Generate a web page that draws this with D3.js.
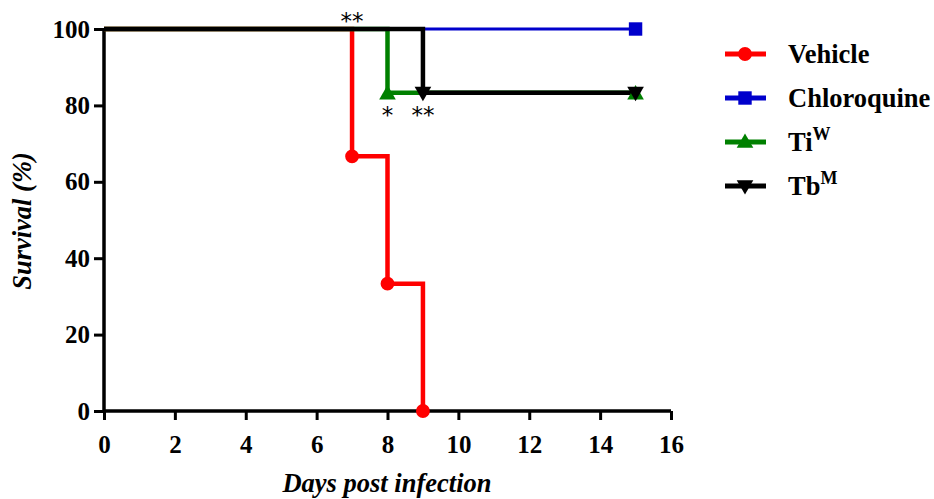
<!DOCTYPE html>
<html>
<meta charset="utf-8"/>
<head>
<script src="https://d3js.org/d3.v7.min.js"></script>
<style>
  body { margin: 0; background: #fff; }
  text { font-family: "Liberation Serif", "Times New Roman", serif; font-weight: bold; }
</style>
</head>
<body>
<script>
// survival data (day, %), Kaplan-Meier steps
var vehicle = [[0,100],[7,66.67],[8,33.33],[9,0]];
var chloroquine = [[0,100],[15,100]];
var tiW = [[0,100],[8,83.33],[15,83.33]];
var tbM = [[0,100],[9,83.33],[15,83.33]];
var xTicks = [0,2,4,6,8,10,12,14,16];
var yTicks = [0,20,40,60,80,100];
var stars = [{x:7, y:100, t:"**", above:true},{x:8, y:83.33, t:"*", above:false},{x:9, y:83.33, t:"**", above:false}];

var series = [
  {name:"Vehicle", sup:"", data:vehicle, color:"#ff0000", sym:d3.symbolCircle, size:150, marks:[1,2,3]},
  {name:"Chloroquine", sup:"", data:chloroquine, color:"#0000cc", sym:d3.symbolSquare, size:180, marks:[1]},
  {name:"Ti", sup:"W", data:tiW, color:"#008000", sym:d3.symbolTriangle, size:120, marks:[1,2]},
  {name:"Tb", sup:"M", data:tbM, color:"#000000", sym:d3.symbolTriangle, size:120, marks:[1,2], flip:true}
];

var W = 934, H = 499;
var svg = d3.select("body").append("svg").attr("width", W).attr("height", H);

var x = d3.scaleLinear().domain([0,16]).range([104,671]);
var y = d3.scaleLinear().domain([0,100]).range([411,29]);

// axes
var xAxis = svg.append("g").attr("transform","translate(0,"+y(0)+")")
  .call(d3.axisBottom(x).tickValues(xTicks).tickSize(9));
var yAxis = svg.append("g").attr("transform","translate("+x(0)+",0)")
  .call(d3.axisLeft(y).tickValues(yTicks).tickSize(10).tickPadding(4));
[xAxis,yAxis].forEach(function(a){
  a.select(".domain").attr("stroke","#000").attr("stroke-width",3.5);
  a.selectAll(".tick line").attr("stroke","#000").attr("stroke-width",3);
  a.selectAll(".tick text").attr("fill","#000").style("font-size","25px");
});
xAxis.select(".domain").attr("d","M"+x(0)+",0H"+x(16));
yAxis.select(".domain").attr("d","M0,"+y(0)+"V"+y(100));
xAxis.selectAll(".tick text").attr("y",42).attr("dy","0");

// step lines
var line = d3.line().x(function(d){return x(d[0]);}).y(function(d){return y(d[1]);}).curve(d3.curveStepAfter);
series.forEach(function(s){
  svg.append("path").attr("d", line(s.data)).attr("fill","none")
    .attr("stroke", s.color).attr("stroke-width", s.name==="Chloroquine"?3:4.5);
});
series.forEach(function(s){
  s.marks.forEach(function(i){
    var d = s.data[i];
    svg.append("path").attr("d", d3.symbol().type(s.sym).size(s.size)())
      .attr("fill", s.color)
      .attr("transform","translate("+x(d[0])+","+(y(d[1]) + (s.sym===d3.symbolTriangle ? (s.flip?-1:2) : 0))+")"+(s.flip?" rotate(180)":""));
  });
});

// significance stars
stars.forEach(function(st){
  svg.append("text").attr("x", x(st.x)).attr("y", y(st.y) + (st.above ? 0 : 30))
    .attr("text-anchor","middle").style("font-size","23px").style("font-weight","normal")
    .style("font-family","DejaVu Sans").text(st.t);
});

// axis titles
svg.append("text").attr("x", 387).attr("y", 492).attr("text-anchor","middle")
  .style("font-size","26.5px").style("font-style","italic").text("Days post infection");
svg.append("text").attr("transform","translate(31,221) rotate(-90)").attr("text-anchor","middle")
  .style("font-size","26.5px").style("font-style","italic").text("Survival (%)");

// legend
var lg = svg.append("g");
series.forEach(function(s,i){
  var cy = 54 + i*44;
  lg.append("line").attr("x1",725).attr("x2",766).attr("y1",cy).attr("y2",cy)
    .attr("stroke",s.color).attr("stroke-width",5);
  lg.append("path").attr("d", d3.symbol().type(s.sym).size(s.size)())
    .attr("fill", s.color)
    .attr("transform","translate(745,"+(cy + (s.sym===d3.symbolTriangle ? (s.flip?-1:1) : 0))+")"+(s.flip?" rotate(180)":""));
  var t = lg.append("text").attr("x",788).attr("y",cy+9).style("font-size","26.5px").attr("fill","#000");
  t.append("tspan").text(s.name);
  if (s.sup) t.append("tspan").attr("dy",-11).style("font-size","18px").text(s.sup);
});
</script>
</body>
</html>
